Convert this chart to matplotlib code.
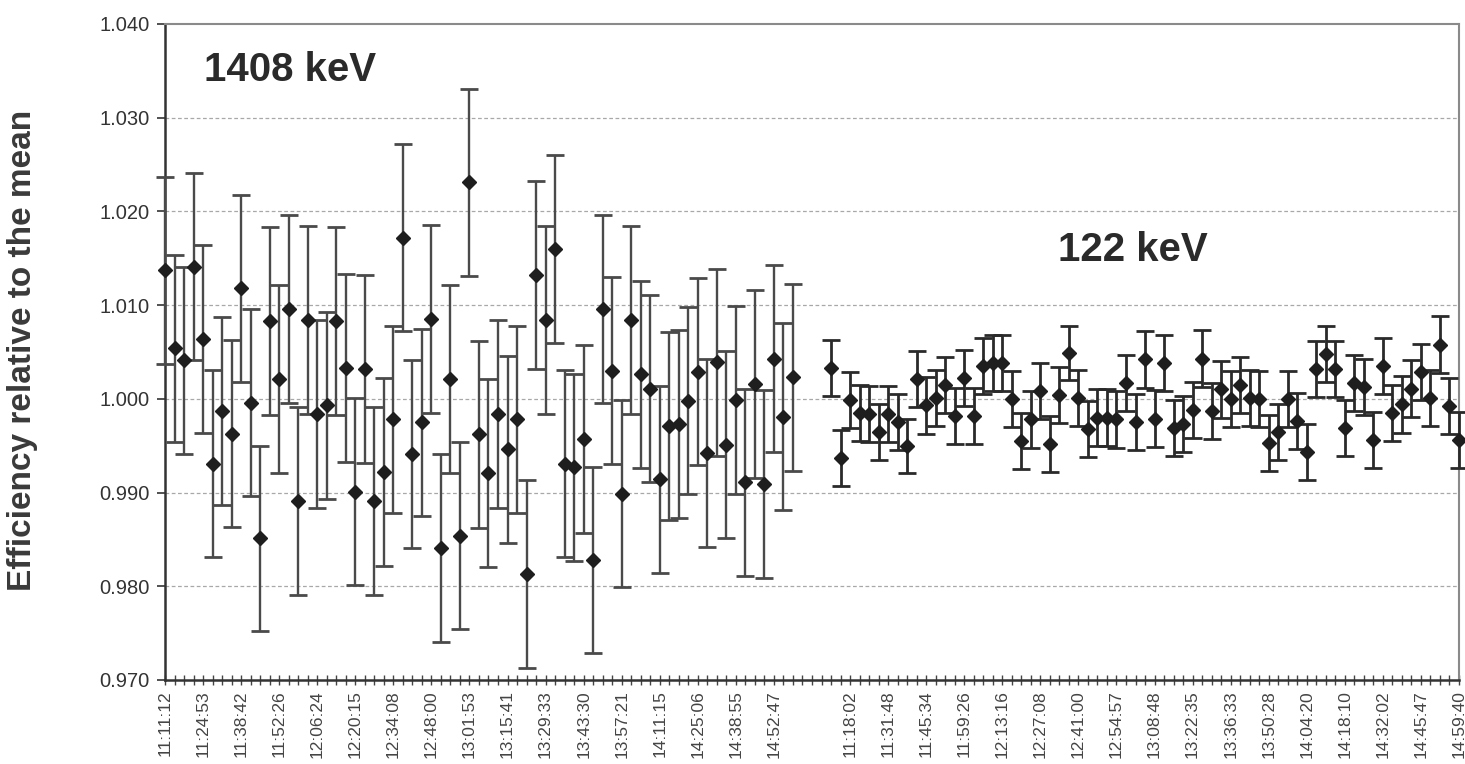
import numpy as np
import matplotlib
matplotlib.use("Agg")
import matplotlib.pyplot as plt

plt.rcParams['font.family'] = ['Liberation Sans', 'DejaVu Sans']

# ---------------- data ----------------
labels_1408 = ["11:11:12", "11:24:53", "11:38:42", "11:52:26", "12:06:24", "12:20:15",
               "12:34:08", "12:48:00", "13:01:53", "13:15:41", "13:29:33", "13:43:30",
               "13:57:21", "14:11:15", "14:25:06", "14:38:55", "14:52:47"]
labels_122 = ["11:18:02", "11:31:48", "11:45:34", "11:59:26", "12:13:16", "12:27:08",
              "12:41:00", "12:54:57", "13:08:48", "13:22:35", "13:36:33", "13:50:28",
              "14:04:20", "14:18:10", "14:32:02", "14:45:47", "14:59:40"]

eff_1408 = [1.0137, 1.0054, 1.0041, 1.0141, 1.0064, 0.9931, 0.9987, 0.9963, 1.0118, 0.9996,
            0.9851, 1.0083, 1.0021, 1.0096, 0.9891, 1.0084, 0.9984, 0.9993, 1.0083, 1.0033,
            0.9901, 1.0032, 0.9891, 0.9922, 0.9978, 1.0172, 0.9941, 0.9975, 1.0085, 0.9841,
            1.0021, 0.9854, 1.0231, 0.9962, 0.9921, 0.9984, 0.9946, 0.9978, 0.9813, 1.0132,
            1.0084, 1.0160, 0.9931, 0.9927, 0.9957, 0.9828, 1.0096, 1.0030, 0.9899, 1.0084,
            1.0026, 1.0011, 0.9914, 0.9971, 0.9973, 0.9998, 1.0029, 0.9942, 1.0039, 0.9951,
            0.9999, 0.9911, 1.0016, 0.9909, 1.0043, 0.9981, 1.0023]
err_1408 = [0.0100, 0.0100, 0.0100, 0.0100, 0.0100, 0.0100, 0.0100, 0.0100, 0.0100, 0.0100,
            0.0099, 0.0100, 0.0100, 0.0100, 0.0100, 0.0100, 0.0100, 0.0100, 0.0100, 0.0100,
            0.0100, 0.0100, 0.0100, 0.0100, 0.0100, 0.0100, 0.0100, 0.0100, 0.0100, 0.0100,
            0.0100, 0.0100, 0.0100, 0.0100, 0.0100, 0.0100, 0.0100, 0.0100, 0.0100, 0.0100,
            0.0100, 0.0100, 0.0100, 0.0100, 0.0100, 0.0099, 0.0100, 0.0100, 0.0100, 0.0100,
            0.0100, 0.0100, 0.0100, 0.0100, 0.0100, 0.0100, 0.0100, 0.0100, 0.0100, 0.0100,
            0.0100, 0.0100, 0.0100, 0.0100, 0.0100, 0.0100, 0.0100]

eff_122 = [1.0033, 0.9937, 0.9999, 0.9985, 0.9984, 0.9965, 0.9984, 0.9975, 0.9950, 1.0021,
           0.9993, 1.0001, 1.0015, 0.9982, 1.0022, 0.9982, 1.0035, 1.0038, 1.0038, 1.0000,
           0.9955, 0.9978, 1.0008, 0.9952, 1.0004, 1.0049, 1.0001, 0.9968, 0.9980, 0.9980,
           0.9978, 1.0017, 0.9975, 1.0042, 0.9979, 1.0038, 0.9969, 0.9973, 0.9988, 1.0043,
           0.9987, 1.0010, 1.0000, 1.0015, 1.0001, 1.0000, 0.9953, 0.9965, 1.0000, 0.9976,
           0.9943, 1.0032, 1.0048, 1.0032, 0.9969, 1.0017, 1.0013, 0.9956, 1.0035, 0.9985,
           0.9994, 1.0011, 1.0029, 1.0001, 1.0058, 0.9992, 0.9956]
err_122 = [0.0030, 0.0030, 0.0030, 0.0030, 0.0030, 0.0030, 0.0030, 0.0030, 0.0029, 0.0030,
           0.0030, 0.0030, 0.0030, 0.0030, 0.0030, 0.0030, 0.0030, 0.0030, 0.0030, 0.0030,
           0.0030, 0.0030, 0.0030, 0.0030, 0.0030, 0.0029, 0.0030, 0.0030, 0.0030, 0.0030,
           0.0030, 0.0030, 0.0030, 0.0030, 0.0030, 0.0030, 0.0030, 0.0030, 0.0030, 0.0030,
           0.0030, 0.0030, 0.0030, 0.0030, 0.0030, 0.0030, 0.0030, 0.0030, 0.0030, 0.0030,
           0.0030, 0.0030, 0.0030, 0.0030, 0.0030, 0.0030, 0.0030, 0.0030, 0.0030, 0.0030,
           0.0030, 0.0030, 0.0030, 0.0030, 0.0030, 0.0030, 0.0030]

gap_categories = 3          # empty categories between the two series
label_every = 4
y_ticks = [0.970, 0.980, 0.990, 1.000, 1.010, 1.020, 1.030, 1.040]

# ---------------- layout ----------------
n1 = len(eff_1408)
n2 = len(eff_122)
x1 = np.arange(n1)
x2 = np.arange(n2) + n1 + gap_categories
n_total = n1 + gap_categories + n2

tick_texts = [""] * n_total
for k, lab in enumerate(labels_1408):
    tick_texts[k * label_every] = lab
start2 = n1 + gap_categories + 2
for k, lab in enumerate(labels_122):
    tick_texts[start2 + k * label_every] = lab

fig = plt.figure(figsize=(14.65, 7.64), dpi=100)
fig.patch.set_facecolor("white")
ax = fig.add_axes([165 / 1465, 1 - 680 / 764, (1459 - 165) / 1465, (680 - 24) / 764])

ax.set_xlim(0, n_total - 1)
ax.set_ylim(0.970, 1.040)

# grid
for v in y_ticks[1:-1]:
    ax.axhline(v, color="#a8a8a8", lw=0.9, ls=(0, (3, 2)), zorder=0)

mk = dict(fmt="D", ms=7, mfc="#1e1e1e", mec="#1e1e1e", capsize=6.5, capthick=2.0,
          clip_on=False, zorder=3)
ax.errorbar(x1, eff_1408, yerr=err_1408, ecolor="#4a4a4a", elinewidth=1.7, **mk)
ax.errorbar(x2, eff_122, yerr=err_122, ecolor="#2a2a2a", elinewidth=2.0, **mk)

# axes styling
for s in ["left", "bottom"]:
    ax.spines[s].set_color("#333333")
    ax.spines[s].set_linewidth(1.8)
for s in ["top", "right"]:
    ax.spines[s].set_color("#8a8a8a")
    ax.spines[s].set_linewidth(1.5)

ax.set_yticks(y_ticks)
ax.set_yticklabels([f"{v:.3f}" for v in y_ticks], fontsize=14.5, color="#333333")
ax.tick_params(axis="y", direction="out", length=6, width=1.2, pad=5, colors="#333333")

ax.set_xticks(np.arange(n_total))
ax.set_xticklabels(tick_texts, rotation=90, fontsize=12.5, color="#444444")
ax.tick_params(axis="x", direction="inout", length=7, width=1.0, pad=4, colors="#444444")

ax.text(0.0966, 0.930, "1408 keV", transform=ax.transAxes, fontsize=29, fontweight="bold",
        color="#2a2a2a", ha="center", va="center")
ax.text(0.748, 0.6555, "122 keV", transform=ax.transAxes, fontsize=29, fontweight="bold",
        color="#2a2a2a", ha="center", va="center")

fig.text(23 / 1465, 1 - 350 / 764, "Efficiency relative to the mean", rotation=90,
         fontsize=24, fontweight="bold", color="#3a3a3a", ha="center", va="center")

fig.savefig("out.png", dpi=100, facecolor="white")
